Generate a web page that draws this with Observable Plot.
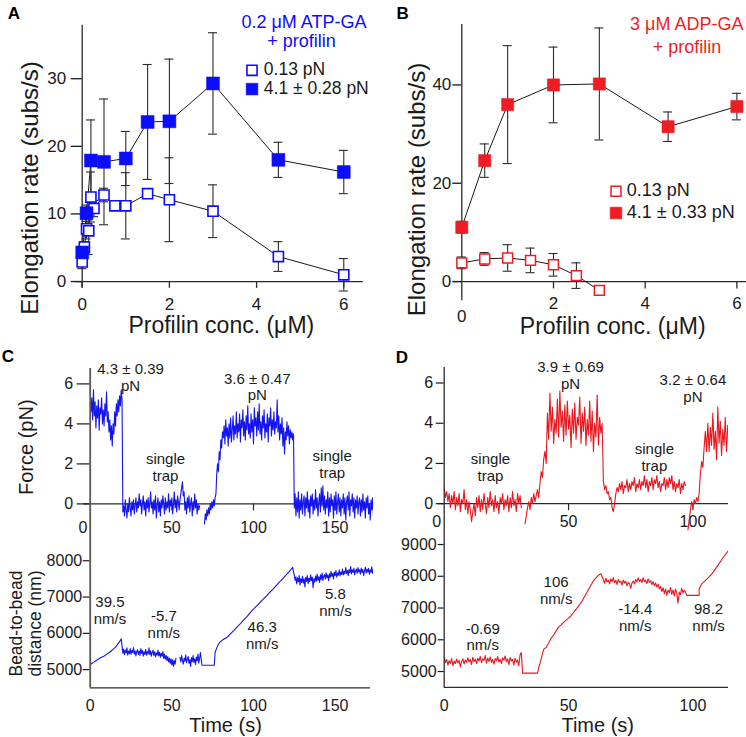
<!DOCTYPE html>
<html>
<head>
<meta charset="utf-8">
<script src="https://cdn.jsdelivr.net/npm/d3@7"></script>
<script src="https://cdn.jsdelivr.net/npm/@observablehq/plot@0.6"></script>
<style>
  html, body { margin: 0; padding: 0; background: #fff; }
  #fig { position: relative; width: 746px; height: 737px; overflow: hidden; background: #fff; }
  #fig svg { position: absolute; overflow: visible; }
</style>
</head>
<body>
<div id="fig"></div>
<script>
// ================= DATA =================
// Panel A : 0.2 µM ATP-GA + profilin
const aOpenConc   = [0, 0.05, 0.1, 0.15, 0.2, 0.27, 0.5, 0.75, 1, 1.5, 2, 3, 4.5, 6];
const aOpenRate   = [2.9, 5.1, 7.8, 7.5, 12.5, 10.8, 12.8, 11.2, 11.2, 13.0, 12.1, 10.4, 3.7, 1.0];
const aOpenErr    = [1.0, 0.8, 1.5, 3.5, 3.7, 1.2, 1.0, 0.6, 4.9, 0.4, 6.2, 3.9, 2.2, 2.4];
const aFilledConc = [0, 0.1, 0.2, 0.5, 1, 1.5, 2, 3, 4.5, 6];
const aFilledRate = [4.3, 10.1, 17.9, 17.7, 18.2, 23.6, 23.7, 29.3, 18.0, 16.2];
const aFilledErr  = [0.8, 1.2, 6.0, 9.3, 4.0, 8.5, 9.2, 7.5, 2.6, 3.2];
const aTicksX = [0, 2, 4, 6];
const aTicksY = [0, 10, 20, 30];

// Panel B : 3 µM ADP-GA + profilin
const bOpenConc   = [0, 0.5, 1, 1.5, 2, 2.5, 3];
const bOpenRate   = [3.8, 4.6, 4.8, 4.3, 3.4, 1.2, -1.8];
const bOpenErr    = [1.2, 1.3, 2.7, 2.5, 2.3, 2.6, 0.5];
const bFilledConc = [0, 0.5, 1, 2, 3, 4.5, 6];
const bFilledRate = [11.05, 24.6, 36.0, 40.0, 40.2, 31.5, 35.6];
const bFilledErr  = [1.2, 3.4, 12.0, 7.7, 11.4, 3.0, 2.7];
const bTicksX = [0, 2, 4, 6];
const bTicksY = [0, 20, 40];

// Panel C : force (pN) trace, sampled every 0.5 s
const cForceHigh1 = [5.0, 4.6, 5.3, 4.2, 5.7, 4.4, 5.1, 3.8, 4.9, 4.3, 5.2, 3.7, 4.8, 4.5, 5.3, 4.0, 4.7, 3.9, 5.0, 4.4,
  5.6, 4.1, 4.6, 3.6, 4.2, 3.2, 3.9, 2.9, 4.0, 3.5, 4.6, 3.9, 5.0, 4.4, 5.2, 4.6, 5.4, 4.9, 5.7, 5.2];
const cForceLow1 = [-0.4, -0.1, -0.6, 0.2, -0.3, -0.7, 0.0, -0.4, 0.3, -0.2, -0.6, 0.1, -0.3, 0.2, -0.5, -0.1, 0.3, -0.4, 0.1, -0.2,
  0.5, -0.1, 0.2, -0.5, 0.0, 0.4, -0.3, 0.1, -0.6, 0.2, -0.2, 0.3, -0.4, 0.0, 0.6, -0.2, 0.1, -0.5, 0.2, -0.3,
  0.4, -0.7, -0.1, 0.3, -0.4, 0.1, -0.6, 0.2, -0.2, 0.4, 0.0, -0.5, 0.3, -0.3, 0.1, -0.2, 0.5, -0.4, 0.2, -0.1,
  0.3, -0.5, 0.0, 0.6, -0.2, 0.2, -0.4, 0.4, 0.1, -0.3, 0.2, 0.5, 0.8, 1.1, 0.4, 0.6, -0.3, 0.1, -0.5, 0.3,
  -0.2, 0.4, -0.4, 0.0, 0.3, -0.6, 0.1, -0.3, 0.5, -0.2, 0.2, -0.5, 0.0, -0.3, -0.1];
const cForceRise = [-1.0, -0.5, -0.8, -0.3, -0.6, -0.2, -0.5, 0.0, -0.3, 0.1, -0.2, 0.2, -0.1, 0.3, 0.5, 1.5, 2.0, 1.6, 2.6, 2.2,
  3.2, 2.8, 3.6, 3.3];
const cForceHigh2 = [3.9, 3.0, 4.2, 3.4, 3.8, 2.9, 4.0, 3.3, 4.3, 3.1, 3.7, 4.4, 3.2, 3.9, 3.5, 4.6, 3.3, 4.0, 3.6, 4.5,
  3.1, 4.2, 3.8, 4.7, 3.4, 4.1, 3.2, 4.4, 3.7, 4.9, 3.5, 4.0, 3.3, 4.5, 3.6, 4.2, 3.0, 4.8, 3.9, 4.3,
  3.4, 4.6, 3.7, 5.0, 3.5, 4.1, 3.2, 4.4, 3.8, 4.7, 3.3, 4.0, 3.6, 4.5, 3.1, 4.3, 3.9, 4.8, 3.4, 4.2,
  3.7, 4.6, 3.5, 4.1, 3.8, 5.2, 3.6, 4.4, 3.2, 4.0, 3.5, 4.3, 2.9, 3.8, 2.5, 3.6, 3.2, 4.1, 3.4, 3.9,
  3.0, 3.7, 3.3, 3.6, 3.2, 3.5];
const cForceLow2 = [-0.2, 0.5, -0.6, 0.3, -0.4, 0.6, -0.7, 0.2, -0.3, 0.5, -0.5, 0.1, 0.4, -0.6, 0.3, -0.2, 0.6, -0.4, 0.2, -0.7,
  0.4, -0.1, 0.5, -0.5, 0.2, -0.3, 0.7, -0.2, 0.3, -0.6, 0.1, 0.5, -0.4, 0.8, -0.1, 0.9, -0.3, 0.4, -0.5, 0.2,
  -0.2, 0.6, -0.6, 0.3, -0.4, 0.5, -0.1, 0.2, -0.7, 0.4, -0.3, 0.6, -0.5, 0.1, 0.5, -0.4, 0.3, -0.6, 0.2, -0.2,
  0.5, -0.5, 0.3, -0.8, 0.1, 0.4, -0.3, 0.6, -0.6, 0.2, -0.1, 0.5, -0.4, 0.3, -0.7, 0.2, -0.2, 0.4, -0.5, 0.1,
  0.3, -0.6, 0.2, -0.4, 0.5, -0.3, 0.1, -0.7, 0.3, -0.2, 0.4, -0.5, 0.0, -0.8, 0.2, -0.3, 0.3, -0.6, -0.1, -0.4];

// Panel C : bead-to-bead distance (nm)
const cDistRamp1 = [5140, 5170, 5200, 5230, 5260, 5290, 5320, 5340, 5360, 5390, 5420, 5450, 5480, 5520, 5560, 5600, 5650, 5710, 5770, 5850];
const cDistLow1 = [5450, 5570, 5410, 5540, 5460, 5600, 5400, 5510, 5440, 5580, 5420, 5530, 5470, 5610, 5430, 5520, 5380, 5500, 5550, 5420,
  5510, 5390, 5580, 5450, 5530, 5370, 5490, 5420, 5560, 5400, 5500, 5430, 5600, 5410, 5520, 5370, 5480, 5530, 5390, 5490,
  5350, 5460, 5400, 5540, 5380, 5480, 5340, 5450, 5370, 5500, 5310, 5430, 5290, 5390, 5250, 5360, 5210, 5320, 5170, 5300,
  5130, 5280, 5090, 5250, 5150, 5310];
const cDistLow2 = [5340, 5210, 5390, 5250, 5150, 5320, 5230, 5410, 5190, 5300, 5360, 5170, 5280, 5090, 5330, 5220, 5390, 5200, 5300, 5140,
  5350, 5240, 5430, 5180, 5310, 5470, 5280];
const cDistFlat = [5120, 5120];
const cDistRamp2a = [5480, 5600, 5700, 5760, 5800, 5830, 5860, 5880, 5920];
const cDistRamp2b = [5990, 6080, 6180, 6270, 6370, 6460, 6570, 6670, 6760, 6850, 6940, 7030, 7130, 7220, 7320, 7420, 7510, 7610, 7710, 7820];
const cDistHigh = [7600, 7460, 7560, 7360, 7530, 7420, 7590, 7330, 7510, 7400, 7570, 7380, 7500, 7280, 7540, 7430, 7590, 7370, 7520, 7420,
  7610, 7450, 7550, 7260, 7510, 7410, 7580, 7440, 7630, 7460, 7560, 7400, 7610, 7480, 7660, 7460, 7570, 7620, 7490, 7670,
  7530, 7610, 7450, 7640, 7540, 7710, 7570, 7650, 7500, 7690, 7590, 7730, 7550, 7660, 7600, 7750, 7580, 7690, 7620, 7770,
  7610, 7710, 7640, 7810, 7650, 7730, 7590, 7760, 7670, 7840, 7640, 7750, 7680, 7790, 7610, 7720, 7770, 7650, 7810, 7690,
  7750, 7630, 7800, 7680, 7760, 7590, 7730, 7820, 7660, 7770, 7690, 7790, 7630, 7750, 7680, 7830, 7650, 7740, 7600, 7710];
const cTicksT = [0, 50, 100, 150];
const forceTicks = [0, 2, 4, 6];
const cDistTicks = [5000, 6000, 7000, 8000];

// Panel D : force (pN) trace, sampled every 0.5 s
const dForceLow1 = [0.8, 0.3, 0.6, 0.1, 0.5, -0.2, 0.4, 0.0, 0.6, -0.3, 0.3, -0.1, 0.5, -0.4, 0.2, 0.0, 0.7, -0.3, 0.2, -0.5,
  0.1, -0.3, -0.9, -0.4, 0.0, -0.6, 0.3, -0.2, 0.4, -0.4, 0.2, -0.3, 0.5, 0.0, -0.5, 0.3, -0.2, 0.6, -0.1, 0.2,
  -0.4, 0.4, -0.2, 0.1, -0.5, 0.3, 0.0, 0.5, -0.3, 0.2, -0.1, 0.4, -0.4, 0.3, -0.2, 0.6, -0.1, 0.2, -0.4, 0.5,
  0.0, 0.4, -0.2];
const dForceRise1 = [-1.0, -0.6, -0.2, 0.1, -0.3, 0.3, 0.0, 0.5, 0.1, 0.4, 0.7, 0.3, 1.0, 1.6, 1.3, 2.2, 2.6, 2.0];
const dForceHigh1 = [4.5, 3.2, 5.5, 3.6, 4.8, 3.0, 4.2, 3.5, 5.2, 3.3, 5.6, 3.8, 4.6, 3.1, 4.9, 3.4, 5.1, 3.7, 4.4, 2.8,
  4.7, 3.5, 5.0, 3.2, 4.3, 3.9, 5.3, 3.0, 4.5, 3.6, 4.8, 2.9, 4.2, 3.4, 5.1, 3.1, 4.6, 2.6, 4.0, 3.3,
  5.4, 2.9, 4.3, 3.5, 4.0];
const dForceDrop = [1.1, 0.7, 0.9, 0.5, 0.6, 0.2, 0.3, -0.2, -0.4, 0.0, 0.5, 0.8];
const dForceMid = [0.6, 1.0, 0.7, 1.1, 0.5, 0.9, 0.8, 1.2, 0.6, 1.0, 0.7, 1.1, 0.9, 1.3, 0.6, 1.0, 0.8, 1.2, 0.7, 1.1,
  0.9, 1.4, 0.8, 1.2, 0.6, 1.1, 0.9, 1.3, 0.7, 1.2, 1.0, 1.4, 0.8, 1.1, 0.6, 1.0, 0.9, 1.3, 0.7, 1.2,
  0.8, 1.3, 1.0, 1.4, 0.7, 1.1, 0.6, 1.0, 0.8, 1.2, 0.5, 1.0, 0.7, 1.1, 0.9];
const dForceRise2 = [-1.3, -0.8, -0.3, 0.1, -0.2, 0.2, 0.0, 0.3, 0.1, 0.5, 1.5, 2.1, 1.8, 2.8, 3.6, 2.6];
const dForceHigh2 = [4.0, 2.6, 3.8, 2.9, 4.5, 2.7, 3.6, 2.2, 4.8, 3.0, 4.1, 2.4, 3.7, 2.9, 4.3, 2.6, 3.9, 3.2];

// Panel D : bead-to-bead distance (nm)
const dDistLow = [5450, 5280, 5380, 5200, 5340, 5260, 5410, 5180, 5330, 5250, 5390, 5270, 5350, 5150, 5320, 5400, 5240, 5360, 5290, 5430,
  5300, 5380, 5220, 5450, 5310, 5390, 5250, 5420, 5330, 5480, 5280, 5400, 5350, 5500, 5260, 5420, 5320, 5460, 5290, 5380,
  5230, 5410, 5340, 5470, 5300, 5390, 5250, 5430, 5360, 5490, 5310, 5400, 5220, 5440, 5330, 5380, 5200, 5420, 5290, 5360,
  5180, 5520, 5600];
const dDistFlat1 = [4950, 4950];
const dDistRamp1 = [5120, 5400, 5700, 5760, 5900, 6050, 6150, 6280, 6400, 6470, 6550, 6620, 6680, 6760, 6860, 6960, 7060, 7160, 7300, 7440,
  7580, 7720, 7860, 7950, 8030, 8080];
const dDistHigh1 = [7900, 7780, 7940, 7820, 7880, 7760, 7920, 7830, 7960, 7800, 7870, 7740, 7900, 7810, 7850, 7720, 7880, 7790, 7840, 7700,
  7810, 7760, 7620, 7790, 7850, 7760, 7900, 7820, 7950, 7840, 7900, 7800, 7960, 7830, 7880, 7770, 7920, 7810, 7860, 7740,
  7830, 7700, 7790, 7660, 7750, 7600, 7680];
const dDistHigh2 = [7520, 7640, 7450, 7600, 7400, 7560, 7480, 7650, 7430, 7570, 7380, 7600, 7460, 7150, 7500, 7420, 7620, 7480, 7560, 7500];
const dDistFlat2 = [7400, 7400];
const dDistRamp2 = [7600, 7760, 7830, 7900, 7980, 8070, 8170, 8280, 8400, 8520, 8630, 8730, 8830];
const dTicksT = [0, 50, 100];
const dDistTicks = [5000, 6000, 7000, 8000, 9000];

// Annotations (anchored in data units of each trace)
const annCForce = [{text: "4.3 ± 0.39\npN", t: 24.7, v: 6.34}, {text: "3.6 ± 0.47\npN", t: 102.3, v: 5.86}];
const annCTrap  = [{text: "single\ntrap", t: 46.1, v: 1.83}, {text: "single\ntrap", t: 148.2, v: 1.97}];
const annCDist  = [{text: "39.5\nnm/s", t: 12.1, v: 6643}, {text: "-5.7\nnm/s", t: 45.1, v: 6263},
                   {text: "46.3\nnm/s", t: 105.3, v: 5941}, {text: "5.8\nnm/s", t: 150.2, v: 6861}];
const annDForce = [{text: "3.9 ± 0.69\npN", t: 50.8, v: 6.38}, {text: "3.2 ± 0.64\npN", t: 100, v: 5.74}];
const annDTrap  = [{text: "single\ntrap", t: 18.6, v: 1.8}, {text: "single\ntrap", t: 84.5, v: 2.33}];
const annDDist  = [{text: "-0.69\nnm/s", t: 15.5, v: 6097}, {text: "106\nnm/s", t: 45, v: 7568},
                   {text: "-14.4\nnm/s", t: 76.8, v: 6702}, {text: "98.2\nnm/s", t: 106.3, v: 6708}];

// ================= DRAWING =================
const FONT = '"Liberation Sans", Arial, Helvetica, sans-serif';
const AX = "#2b2b2b";
const BLUE = "#0c0cff", RED = "#ee1d23";
const TRACE_BLUE = "#1414ee", TRACE_RED = "#e8161f";
const fig = document.getElementById("fig");
const style = {fontFamily: FONT, background: "transparent", overflow: "visible", color: "#1a1a1a"};
const intFmt = d3.format("d");

function mount(svg, left, top) { svg.style.left = left + "px"; svg.style.top = top + "px"; fig.appendChild(svg); }
function label(m, text, x, y, o = {}) {
  return Plot.text([text], {frameAnchor: "top-left", dx: x - m.ml, dy: y - m.mt, text: d => d,
    textAnchor: "middle", lineAnchor: "middle", fontSize: 15, fill: "#1a1a1a", ...o});
}
function legendSquare(m, x, y, o) {
  return Plot.dot([0], {frameAnchor: "top-left", dx: x - m.ml, dy: y - m.mt, symbol: "square", ...o});
}
function recs(xs, ys, es) { return xs.map((x, i) => ({x, y: ys[i], e: es[i]})); }
function errMarks(data, cap) {
  const o = {stroke: "#2b2b2b", strokeWidth: 1.1};
  return [
    Plot.ruleX(data, {x: "x", y1: d => d.y - d.e, y2: d => d.y + d.e, ...o}),
    Plot.ruleY(data, {y: d => d.y + d.e, x1: "x", x2: "x", insetLeft: -cap, insetRight: -cap, ...o}),
    Plot.ruleY(data, {y: d => d.y - d.e, x1: "x", x2: "x", insetLeft: -cap, insetRight: -cap, ...o})
  ];
}
function traceRows(pieces) {
  return pieces.flatMap(p => p.v.map((v, i) => ({t: p.t0 + i * p.dt, v, seg: p.seg})));
}
const str = d => String(d);
const annStyle = {x: "t", y: "v", text: "text", fontSize: 15, lineAnchor: "middle", fill: "#1a1a1a", lineHeight: 1.12};

// ---------- Panel A ----------
{
  const m = {ml: 81.7, mt: 24.8};
  const open = recs(aOpenConc, aOpenRate, aOpenErr);
  const filled = recs(aFilledConc, aFilledRate, aFilledErr);
  mount(Plot.plot({
    width: 373, height: 340, marginLeft: m.ml, marginRight: 10.1, marginTop: m.mt, marginBottom: 52.2, style,
    x: {domain: [0, 6.45], label: null}, y: {domain: [-1, 37.9], label: null},
    marks: [
      Plot.ruleX([0], {stroke: AX, strokeWidth: 1.3}),
      Plot.ruleY([0], {x1: -0.154, x2: 6.45, stroke: AX, strokeWidth: 1.3}),
      Plot.ruleX(aTicksX, {x: d => d, y1: 0, y2: -1, stroke: AX, strokeWidth: 1.3}),
      Plot.axisY({ticks: aTicksY, tickSize: 11, tickPadding: 5, fontSize: 17, strokeWidth: 1.3, tickFormat: intFmt, label: null}),
      Plot.axisX({ticks: aTicksX, tickSize: 0, tickPadding: 9.2, fontSize: 17, tickFormat: intFmt, label: null}),
      Plot.line(open, {x: "x", y: "y", stroke: "#1a1a1a", strokeWidth: 1}),
      Plot.line(filled, {x: "x", y: "y", stroke: "#1a1a1a", strokeWidth: 1}),
      ...errMarks(open, 4.5), ...errMarks(filled, 4.5),
      Plot.dot(open, {x: "x", y: "y", symbol: "square", r: 5.7, fill: "white", stroke: BLUE, strokeWidth: 1.6}),
      Plot.dot(filled, {x: "x", y: "y", symbol: "square", r: 7.3, fill: BLUE, stroke: BLUE, strokeWidth: 0.5}),
      label(m, "0.2 μM ATP-GA", 303.5, 21.8, {fontSize: 18, fill: BLUE}),
      label(m, "+ profilin", 301, 40.8, {fontSize: 18, fill: BLUE}),
      legendSquare(m, 251.5, 69.8, {r: 5.7, fill: "white", stroke: BLUE, strokeWidth: 1.6}),
      legendSquare(m, 251.5, 88.6, {r: 6.6, fill: BLUE, stroke: BLUE, strokeWidth: 0.5}),
      label(m, "0.13 pN", 263.3, 69.3, {fontSize: 17.5, textAnchor: "start"}),
      label(m, "4.1 ± 0.28 pN", 263.3, 88.1, {fontSize: 17.5, textAnchor: "start"}),
      label(m, "Elongation rate (subs/s)", 30, 187.5, {fontSize: 24, rotate: -90}),
      label(m, "Profilin conc. (μM)", 220.8, 325.5, {fontSize: 23}),
      label(m, "A", 13.3, 12.8, {fontSize: 17, fontWeight: "bold", fill: "#000"})
    ]
  }), 0, 0);
}

// ---------- Panel B ----------
{
  const m = {ml: 88.3, mt: 24};
  const open = recs(bOpenConc, bOpenRate, bOpenErr);
  const filled = recs(bFilledConc, bFilledRate, bFilledErr);
  mount(Plot.plot({
    width: 373, height: 340, marginLeft: m.ml, marginRight: 0, marginTop: m.mt, marginBottom: 39.8, style,
    x: {domain: [0, 6.21], label: null, axis: null}, y: {domain: [-3.9, 52.3], label: null},
    marks: [
      Plot.ruleX([0], {stroke: AX, strokeWidth: 1.3}),
      Plot.ruleY([0], {x1: -0.18, x2: 6.21, stroke: AX, strokeWidth: 1.3}),
      Plot.ruleX(bTicksX.slice(1), {x: d => d, y1: 0, y2: -1.5, stroke: AX, strokeWidth: 1.3}),
      Plot.axisY({ticks: bTicksY, tickSize: 9, tickPadding: 1.5, fontSize: 17, strokeWidth: 1.3, tickFormat: intFmt, label: null}),
      Plot.text(bTicksX.slice(1), {x: d => d, y: -4.48, text: str, fontSize: 17, lineAnchor: "middle"}),
      Plot.text([0], {x: d => d, y: -7.12, text: str, fontSize: 17, lineAnchor: "middle"}),
      Plot.line(open, {x: "x", y: "y", stroke: "#1a1a1a", strokeWidth: 1}),
      Plot.line(filled, {x: "x", y: "y", stroke: "#1a1a1a", strokeWidth: 1}),
      ...errMarks(open, 4.5), ...errMarks(filled, 4.5),
      Plot.dot(open, {x: "x", y: "y", symbol: "square", r: 5.6, fill: "white", stroke: RED, strokeWidth: 1.5}),
      Plot.dot(filled, {x: "x", y: "y", symbol: "square", r: 6.9, fill: RED, stroke: RED, strokeWidth: 0.5}),
      label(m, "3 μM ADP-GA", 313.3, 24.2, {fontSize: 18, fill: RED}),
      label(m, "+ profilin", 313.5, 46.8, {fontSize: 18, fill: RED}),
      legendSquare(m, 242.5, 190.8, {r: 5.6, fill: "white", stroke: RED, strokeWidth: 1.5}),
      legendSquare(m, 242.5, 212.5, {r: 6.6, fill: RED, stroke: RED, strokeWidth: 0.5}),
      label(m, "0.13 pN", 253.3, 189.5, {fontSize: 18, textAnchor: "start"}),
      label(m, "4.1 ± 0.33 pN", 253.3, 211.8, {fontSize: 18, textAnchor: "start"}),
      label(m, "Elongation rate (subs/s)", 44, 189, {fontSize: 24, rotate: -90}),
      label(m, "Profilin conc. (μM)", 239.2, 326, {fontSize: 23}),
      label(m, "B", 29.2, 12.8, {fontSize: 17, fontWeight: "bold", fill: "#000"})
    ]
  }), 373, 0);
}

// ---------- Panel C : force ----------
{
  const m = {ml: 89.7, mt: 28};
  const rows = traceRows([
    {seg: 1, t0: 0, dt: 0.5, v: cForceHigh1},
    {seg: 1, t0: 20, dt: 0.5, v: cForceLow1},
    {seg: 2, t0: 70, dt: 0.5, v: cForceRise},
    {seg: 2, t0: 82, dt: 0.5, v: cForceHigh2},
    {seg: 2, t0: 125, dt: 0.5, v: cForceLow2}
  ]);
  mount(Plot.plot({
    width: 373, height: 200, marginLeft: m.ml, marginRight: 0, marginTop: m.mt, marginBottom: 0, style,
    x: {domain: [0, 173.5], label: null, axis: null}, y: {domain: [-1.83, 6.77], label: null},
    marks: [
      Plot.ruleY([0], {x1: -3.9, x2: 173.5, stroke: AX, strokeWidth: 1.2}),
      Plot.ruleX(cTicksT.slice(1), {x: d => d, y1: 0, y2: -0.35, stroke: AX, strokeWidth: 1.2}),
      Plot.axisY({ticks: forceTicks, tickSize: 13, tickPadding: 4, fontSize: 16, strokeWidth: 1.2, tickFormat: intFmt, label: null}),
      Plot.text(cTicksT.slice(1), {x: d => d, y: -1.18, text: str, fontSize: 16, lineAnchor: "middle"}),
      Plot.text([0], {x: d => d, y: -1.18, dx: -7.2, text: str, fontSize: 16, lineAnchor: "middle"}),
      Plot.line(rows, {x: "t", y: "v", z: "seg", stroke: TRACE_BLUE, strokeWidth: 1.1, clip: true}),
      Plot.ruleX([0], {stroke: "#5d5654", strokeWidth: 1.8}),
      Plot.text(annCForce, annStyle),
      Plot.text(annCTrap, annStyle),
      label(m, "Force (pN)", 26, 106.7, {fontSize: 20, rotate: -90}),
      label(m, "C", 7.5, 16.3, {fontSize: 17, fontWeight: "bold", fill: "#000"})
    ]
  }), 0, 340);
}

// ---------- Panel C : distance ----------
{
  const m = {ml: 89.7, mt: 0};
  const rows = traceRows([
    {seg: 1, t0: 0, dt: 1, v: cDistRamp1},
    {seg: 1, t0: 20, dt: 0.5, v: cDistLow1},
    {seg: 2, t0: 55, dt: 0.5, v: cDistLow2},
    {seg: 2, t0: 68.5, dt: 7.5, v: cDistFlat},
    {seg: 2, t0: 76.5, dt: 1, v: cDistRamp2a},
    {seg: 2, t0: 86, dt: 2, v: cDistRamp2b},
    {seg: 2, t0: 125, dt: 0.5, v: cDistHigh}
  ]);
  mount(Plot.plot({
    width: 373, height: 197, marginLeft: m.ml, marginRight: 0, marginTop: 0, marginBottom: 49.7, style,
    x: {domain: [0, 173.5], label: null}, y: {domain: [4500, 8558], label: null},
    marks: [
      Plot.ruleY([4500], {x1: 0, x2: 171.7, stroke: AX, strokeWidth: 1.3}),
      Plot.axisY({ticks: cDistTicks, tickSize: 7, tickPadding: 1, fontSize: 16, strokeWidth: 1.2, tickFormat: intFmt, label: null}),
      Plot.axisX({ticks: cTicksT, tickSize: 0, tickPadding: 12, fontSize: 16, tickFormat: intFmt, label: null}),
      Plot.line(rows, {x: "t", y: "v", z: "seg", stroke: TRACE_BLUE, strokeWidth: 1.1, clip: true}),
      Plot.ruleX([0], {stroke: "#5d5654", strokeWidth: 1.8}),
      Plot.text(annCDist, annStyle),
      label(m, "Bead-to-bead\ndistance (nm)", 25, 83, {fontSize: 17.5, rotate: -90, lineHeight: 1.1}),
      label(m, "Time (s)", 225, 185.5, {fontSize: 20})
    ]
  }), 0, 540);
}

// ---------- Panel D : force ----------
{
  const m = {ml: 70.7, mt: 27};
  const rows = traceRows([
    {seg: 1, t0: 0, dt: 0.5, v: dForceLow1},
    {seg: 2, t0: 32.5, dt: 0.5, v: dForceRise1},
    {seg: 2, t0: 41.5, dt: 0.5, v: dForceHigh1},
    {seg: 2, t0: 64, dt: 0.5, v: dForceDrop},
    {seg: 2, t0: 70, dt: 0.5, v: dForceMid},
    {seg: 3, t0: 98, dt: 0.5, v: dForceRise2},
    {seg: 3, t0: 106, dt: 0.5, v: dForceHigh2}
  ]);
  mount(Plot.plot({
    width: 373, height: 200, marginLeft: m.ml, marginRight: 18, marginTop: m.mt, marginBottom: 0, style,
    x: {domain: [0, 114.3], label: null, axis: null}, y: {domain: [-1.83, 6.77], label: null},
    marks: [
      Plot.ruleY([0], {x1: -2.3, x2: 114.3, stroke: AX, strokeWidth: 1.2}),
      Plot.ruleX(dTicksT.slice(1), {x: d => d, y1: 0, y2: -0.35, stroke: AX, strokeWidth: 1.2}),
      Plot.axisY({ticks: forceTicks, tickSize: 8, tickPadding: 3, fontSize: 16, strokeWidth: 1.2, tickFormat: intFmt, label: null}),
      Plot.text(dTicksT.slice(1), {x: d => d, y: -0.88, text: str, fontSize: 16, lineAnchor: "middle"}),
      Plot.text([0], {x: d => d, y: -0.88, dx: -7.4, text: str, fontSize: 16, lineAnchor: "middle"}),
      Plot.line(rows, {x: "t", y: "v", z: "seg", stroke: TRACE_RED, strokeWidth: 1.1, clip: true}),
      Plot.ruleX([0], {stroke: AX, strokeWidth: 1.3}),
      Plot.text(annDForce, annStyle),
      Plot.text(annDTrap, annStyle),
      label(m, "D", 28.3, 17, {fontSize: 17, fontWeight: "bold", fill: "#000"})
    ]
  }), 373, 340);
}

// ---------- Panel D : distance ----------
{
  const m = {ml: 70.7, mt: 0};
  const rows = traceRows([
    {seg: 1, t0: 0, dt: 0.5, v: dDistLow},
    {seg: 1, t0: 31.5, dt: 6, v: dDistFlat1},
    {seg: 1, t0: 38, dt: 1, v: dDistRamp1},
    {seg: 1, t0: 64, dt: 0.5, v: dDistHigh1},
    {seg: 1, t0: 87.5, dt: 0.5, v: dDistHigh2},
    {seg: 1, t0: 97.5, dt: 5, v: dDistFlat2},
    {seg: 1, t0: 102.5, dt: 1, v: dDistRamp2}
  ]);
  mount(Plot.plot({
    width: 373, height: 197, marginLeft: m.ml, marginRight: 18, marginTop: 0, marginBottom: 50.1, style,
    x: {domain: [0, 114.3], label: null}, y: {domain: [4500, 9127], label: null},
    marks: [
      Plot.ruleY([4500], {x1: 0, x2: 114.3, stroke: AX, strokeWidth: 1.3}),
      Plot.axisY({ticks: dDistTicks, tickSize: 6, tickPadding: 1.5, fontSize: 16, strokeWidth: 1.2, tickFormat: intFmt, label: null}),
      Plot.axisX({ticks: dTicksT, tickSize: 0, tickPadding: 12, fontSize: 16, tickFormat: intFmt, label: null}),
      Plot.line(rows, {x: "t", y: "v", z: "seg", stroke: TRACE_RED, strokeWidth: 1.1, clip: true}),
      Plot.ruleX([0], {stroke: AX, strokeWidth: 1.3}),
      Plot.text(annDDist, annStyle),
      label(m, "Time (s)", 224.2, 185.5, {fontSize: 20})
    ]
  }), 373, 540);
}
</script>
</body>
</html>
